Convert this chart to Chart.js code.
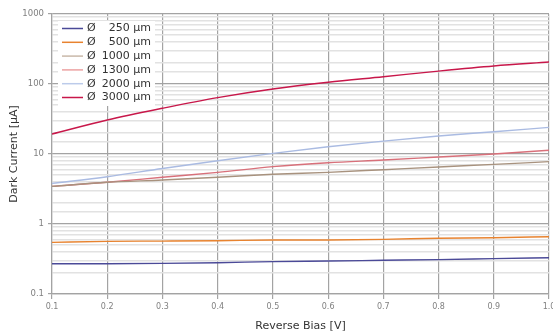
<!DOCTYPE html>
<html>
<head>
<meta charset="utf-8">
<script src="https://cdn.jsdelivr.net/npm/chart.js@4"></script>
<style>
    html, body { margin: 0; padding: 0; background: #fff; overflow: hidden; }
    #wrap { width: 553px; height: 336px; }
</style>
</head>
<body>
<div id="wrap"><canvas id="dark-chart"></canvas></div>
<script>
// Reverse bias [V]
const bias = [0.1, 0.2, 0.3, 0.4, 0.5, 0.6, 0.7, 0.8, 0.9, 1.0];
// diameters [um]
const diameters = [250, 500, 1000, 1300, 2000, 3000];
const colors = ['#4b4a98', '#e8832f', '#a8927e', '#d8707a', '#aabbe2', '#c8174a'];
const legendColors = ['#4b4a98', '#e8832f', '#c9b9a9', '#eca2a2', '#bccbea', '#c8174a'];

// dark current [uA]
const d250  = [0.271, 0.271, 0.274, 0.280, 0.290, 0.296, 0.303, 0.310, 0.320, 0.330];
const d500  = [0.547, 0.565, 0.570, 0.577, 0.590, 0.592, 0.604, 0.625, 0.637, 0.659];
const d1000 = [3.45, 3.94, 4.25, 4.65, 5.13, 5.47, 5.97, 6.52, 7.10, 7.77];
const d1300 = [3.45, 3.94, 4.65, 5.47, 6.60, 7.50, 8.20, 9.06, 10.0, 11.3];
const d2000 = [3.80, 4.74, 6.20, 8.00, 10.2, 12.7, 15.3, 18.1, 20.8, 24.0];
const d3000 = [19.3, 30.6, 45.0, 64.0, 85.0, 106, 127, 153, 181, 206];
const series = [d250, d500, d1000, d1300, d2000, d3000];

const font = '"DejaVu Sans", sans-serif';

function isDecade(v) {
    const l = Math.log10(v);
    return Math.abs(l - Math.round(l)) < 1e-6;
}

// legend box drawn inside the plot, top left
const boxLegend = {
    id: 'boxLegend',
    afterDatasetsDraw(chart) {
        const ctx = chart.ctx;
        ctx.save();
        ctx.fillStyle = '#fff';
        ctx.fillRect(58, 21, 97, 85);
        ctx.font = '11px ' + font;
        ctx.textBaseline = 'middle';
        diameters.forEach(function (d, i) {
            const y = 28.5 + i * 13.8;
            ctx.strokeStyle = legendColors[i];
            ctx.lineWidth = 1.5;
            ctx.beginPath();
            ctx.moveTo(62, y);
            ctx.lineTo(83, y);
            ctx.stroke();
            ctx.fillStyle = '#333';
            ctx.textAlign = 'left';
            ctx.fillText('Ø', 87, y);
            ctx.textAlign = 'right';
            ctx.fillText(d + ' µm', 151, y);
        });
        ctx.restore();
    }
};

const ctx = document.getElementById('dark-chart').getContext('2d');
const chart = new Chart(ctx, {
    type: 'line',
    data: {
        labels: bias,
        datasets: series.map(function (s, i) {
            return {
                label: 'Ø ' + diameters[i] + ' µm',
                data: s.map(function (v, j) { return { x: bias[j], y: v }; }),
                borderColor: colors[i],
                borderWidth: 1.4,
                pointRadius: 0,
                cubicInterpolationMode: 'monotone',
                fill: false
            };
        })
    },
    options: {
        responsive: true,
        maintainAspectRatio: false,
        animation: false,
        layout: { padding: { top: 14, right: 4, left: 0, bottom: 0 } },
        plugins: {
            legend: { display: false },
            tooltip: { enabled: false }
        },
        scales: {
            x: {
                type: 'linear',
                min: 0.1,
                max: 1.0,
                ticks: {
                    stepSize: 0.1,
                    color: '#808080',
                    font: { family: font, size: 8 },
                    padding: 3,
                    maxRotation: 0,
                    callback: function (v) { return v.toFixed(1); }
                },
                grid: { color: '#a3a3a3', lineWidth: 1.2, tickLength: 5 },
                border: { color: '#a3a3a3', width: 1.2 },
                title: {
                    display: true,
                    text: 'Reverse Bias [V]',
                    color: '#333',
                    font: { family: font, size: 11 },
                    padding: { top: 3, bottom: 3 }
                },
                afterFit: function (scale) {
                    scale.height = 42;
                    scale.paddingRight = 0;
                }
            },
            y: {
                type: 'logarithmic',
                min: 0.1,
                max: 1000,
                ticks: {
                    autoSkip: false,
                    color: '#808080',
                    font: { family: font, size: 8.5 },
                    padding: 4,
                    callback: function (v) { return isDecade(v) ? String(v) : ''; }
                },
                grid: {
                    color: function (c) { return isDecade(c.tick.value) ? '#a3a3a3' : '#e2e2e2'; },
                    lineWidth: function (c) { return isDecade(c.tick.value) ? 1.2 : 1.6; },
                    tickColor: function (c) { return isDecade(c.tick.value) ? '#a3a3a3' : 'rgba(0,0,0,0)'; },
                    tickLength: 4
                },
                border: { color: '#a3a3a3', width: 1.2 },
                title: {
                    display: true,
                    text: 'Dark Current [µA]',
                    color: '#333',
                    font: { family: font, size: 11 },
                    padding: { top: 8, bottom: 4 }
                },
                afterFit: function (scale) {
                    scale.width = 52;
                }
            }
        }
    },
    plugins: [boxLegend]
});
</script>
</body>
</html>
